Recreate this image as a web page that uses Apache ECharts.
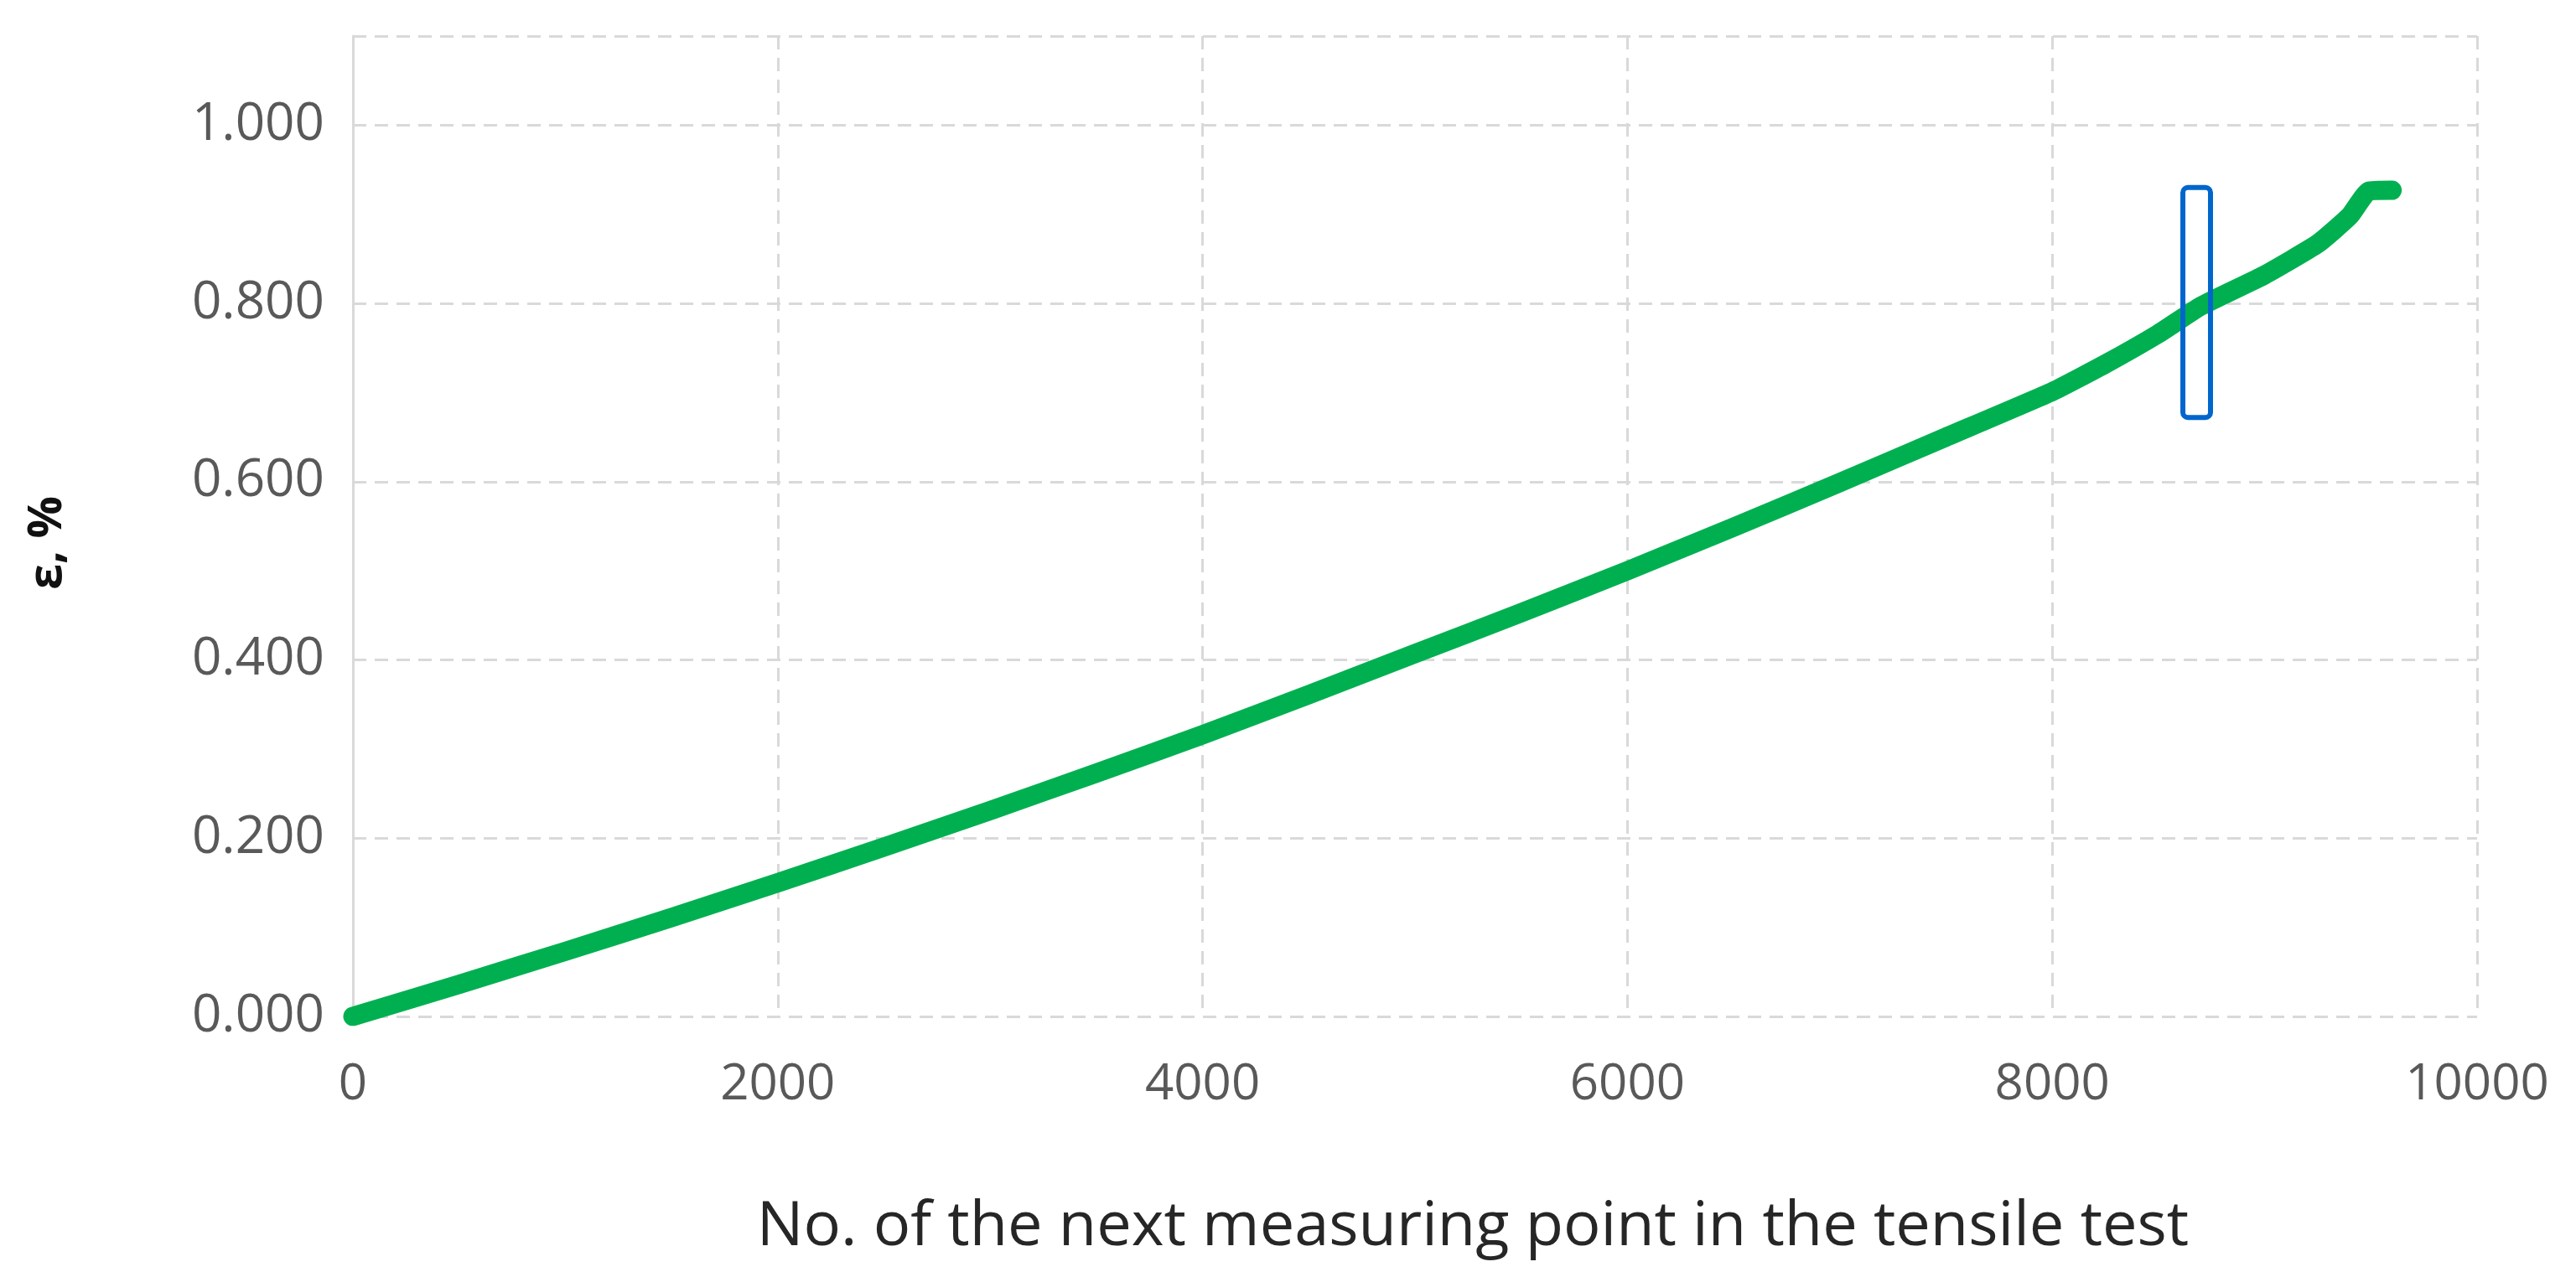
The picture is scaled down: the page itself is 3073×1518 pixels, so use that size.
<!DOCTYPE html>
<html>
<head>
<meta charset="utf-8">
<script src="https://cdn.jsdelivr.net/npm/echarts@6/dist/echarts.min.js"></script>
<style>
    html, body { margin: 0; padding: 0; background: #fff; }
    #strain { width: 3073px; height: 1518px; }
</style>
</head>
<body>
<div id="strain"></div>
<script>
// 测点编号与应变
var pointNo = [0, 500, 1000, 1500, 2000, 2500, 3000, 3500, 4000, 4500, 5000, 5500, 6000,
    6500, 7000, 7500, 8000, 8250, 8500, 8700, 9000, 9250, 9400, 9490, 9600];
var strain = [0.000, 0.036, 0.073, 0.111, 0.150, 0.190, 0.231, 0.273, 0.316, 0.361, 0.407, 0.453, 0.500,
    0.549, 0.599, 0.650, 0.701, 0.732, 0.766, 0.797, 0.832, 0.867, 0.898, 0.926, 0.927];

// 蓝色框选区域
var boxX = [8615, 8745];
var boxY = [0.672, 0.930];

var xTicks = [0, 2000, 4000, 6000, 8000, 10000];
var yTicks = [0, 0.2, 0.4, 0.6, 0.8, 1.0];

var strainChart = echarts.init(document.getElementById('strain'));

var gridLine = {
    show: true,
    lineStyle: {
        color: '#d9d9d9',
        width: 3,
        type: [16, 10]
    }
};

var strainOption = {
    animation: false,
    grid: {
        left: 421,
        right: 118,
        top: 43,
        bottom: 305,
        outerBoundsMode: 'none'
    },
    xAxis: {
        type: 'value',
        min: xTicks[0],
        max: xTicks[xTicks.length - 1],
        interval: xTicks[1] - xTicks[0],
        axisLine: { show: false },
        axisTick: { show: false },
        splitLine: gridLine,
        axisLabel: {
            margin: 52,
            fontSize: 60,
            color: '#595959',
            fontFamily: 'Open Sans',
            formatter: function (v) {
                return String(v);
            }
        },
        name: 'No. of the next measuring point in the tensile test',
        nameLocation: 'middle',
        nameGap: 215,
        nameTextStyle: {
            fontSize: 74,
            color: '#262626',
            fontFamily: 'Open Sans',
            padding: [0, 0, 0, 138]
        }
    },
    yAxis: {
        type: 'value',
        min: yTicks[0],
        max: 1.1,
        interval: yTicks[1] - yTicks[0],
        axisLine: {
            show: true,
            lineStyle: { color: '#d9d9d9', width: 3 }
        },
        axisTick: { show: false },
        splitLine: gridLine,
        axisLabel: {
            margin: 34,
            fontSize: 62,
            color: '#595959',
            fontFamily: 'Open Sans',
            formatter: function (v) {
                return v > yTicks[yTicks.length - 1] + 0.01 ? '' : v.toFixed(3);
            }
        },
        name: 'ε, %',
        nameLocation: 'middle',
        nameGap: 336,
        nameRotate: 90,
        nameTextStyle: {
            fontSize: 56,
            fontWeight: 'bold',
            color: '#111',
            fontFamily: 'Open Sans',
            padding: [0, 40, 0, 0]
        }
    },
    series: [
        {
            type: 'line',
            data: pointNo.map(function (x, i) { return [x, strain[i]]; }),
            showSymbol: false,
            smooth: 0.15,
            lineStyle: {
                color: '#00b050',
                width: 23,
                cap: 'round',
                join: 'round'
            },
            z: 3
        },
        {
            type: 'custom',
            data: [[boxX[0], boxY[0], boxX[1], boxY[1]]],
            renderItem: function (params, api) {
                var p0 = api.coord([api.value(0), api.value(3)]);
                var p1 = api.coord([api.value(2), api.value(1)]);
                return {
                    type: 'rect',
                    shape: {
                        x: p0[0],
                        y: p0[1],
                        width: p1[0] - p0[0],
                        height: p1[1] - p0[1],
                        r: 6
                    },
                    style: {
                        fill: 'none',
                        stroke: '#0066cc',
                        lineWidth: 6
                    }
                };
            },
            z: 5
        }
    ]
};

strainChart.setOption(strainOption);
</script>
</body>
</html>
